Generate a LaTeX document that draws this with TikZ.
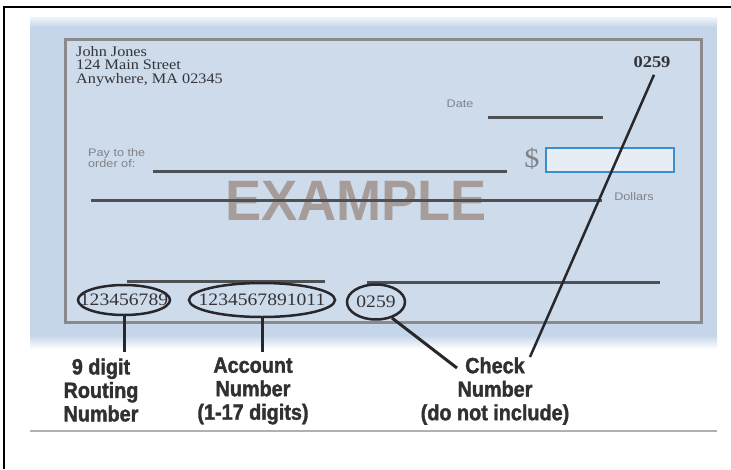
\documentclass[tikz,border=0pt]{standalone}
\usepackage{fontspec}
\setmainfont{Liberation Serif}
\newfontfamily\chk[FakeStretch=1.12]{Liberation Serif}
\newfontfamily\smallf[FakeStretch=1.15]{Liberation Sans}
\newfontfamily\wm[FakeStretch=0.95]{Liberation Sans}
\newfontfamily\lbl[FakeStretch=0.9,FakeBold=1.6]{Liberation Sans}
\usetikzlibrary{shapes.geometric}
\definecolor{chkblue}{RGB}{197,214,234}
\definecolor{chkin}{RGB}{205,219,235}
\definecolor{framegray}{RGB}{138,138,140}
\definecolor{linegray}{RGB}{78,80,84}
\definecolor{textgray}{RGB}{52,52,56}
\definecolor{faintgray}{RGB}{128,130,136}
\definecolor{wmark}{RGB}{166,157,154}
\definecolor{boxblue}{RGB}{58,142,204}
\definecolor{inkdark}{RGB}{40,40,44}
\definecolor{lbltext}{RGB}{48,48,50}
\definecolor{rulegray}{RGB}{176,176,176}
\begin{document}
\begin{tikzpicture}[x=1pt,y=-1pt,
  dline/.style={draw=linegray, line width=3pt},
  oval/.style={ellipse, draw=inkdark, line width=2.5pt, inner sep=0pt,
    font=\chk\fontsize{17.5}{17.5}\selectfont, text=textgray},
  conn/.style={draw=inkdark, line width=3pt},
  small/.style={font=\smallf\fontsize{11}{9.5}\selectfont, text=faintgray, inner sep=0pt},
  label/.style={align=center, inner sep=0pt, text=lbltext,
    font=\lbl\bfseries\fontsize{22}{23.5}\selectfont}]
\useasboundingbox (0,0) rectangle (731,469);
\fill[white] (0,0) rectangle (731,469);
% blue check background
\fill[chkblue] (30,17) rectangle (717,336);
\shade[top color=chkblue!25!white, bottom color=chkblue] (30,17) rectangle (717,27);
\shade[top color=chkblue, bottom color=white] (30,335.5) rectangle (717,349);
% inner check frame
\fill[chkin] (65,39) rectangle (701,322);
\draw[framegray, line width=3pt] (65,39) rectangle (701,322);
% outer black frame
\draw[black, line width=2pt] (731,7) -- (4,7) -- (4,469);
% address
\node[anchor=north west, align=left, inner sep=0pt, text=textgray,
  font=\chk\fontsize{14.5}{13.5}\selectfont] (addr) at (76,46)
  {John Jones\\124 Main Street\\Anywhere, MA 02345};
\node[inner sep=0pt, text=textgray, font=\chk\bfseries\fontsize{16.5}{16.5}\selectfont] (num) at (652,62) {0259};
% date
\node[small] (date) at (460,104) {Date};
\draw[dline] (488,117) -- (603,117);
% pay to
\node[small, anchor=west, align=left] (pay) at (88,158) {Pay to the\\order of:};
\draw[dline] (153,171) -- (507,171);
\node[inner sep=0pt, text=faintgray, font=\chk\fontsize{27}{27}\selectfont] (dollar) at (532,159) {\$};
\node[draw=boxblue, line width=2.5pt, fill=chkin!50!white, minimum width=128pt,
  minimum height=24pt, inner sep=0pt] (amount) at (610,160) {};
% watermark
\node[inner sep=0pt, text=wmark, font=\wm\bfseries\fontsize{57}{57}\selectfont] (ex) at (356,201) {EXAMPLE};
\draw[dline] (91,200) -- (602,200);
\node[small] (dollars) at (634,197) {Dollars};
% MICR lines
\draw[dline] (127,281) -- (325,281);
\draw[dline] (367,282) -- (660,282);
% MICR ellipses
\node[oval, minimum width=92pt, minimum height=30pt] (e1) at (124,300) {\makebox[0pt]{123456789}};
\node[oval, minimum width=146pt, minimum height=34pt] (e2) at (262,300) {\makebox[0pt]{1234567891011}};
\node[oval, minimum width=58pt, minimum height=35pt] (e3) at (376,302) {\makebox[0pt]{0259}};
% labels
\node[label] (lr) at (101,390) {9 digit\\Routing\\Number};
\node[label] (la) at (253,391) {Account\\Number\\(1-17 digits)};
\node[label] (lc) at (495,391) {Check\\Number\\(do not include)};
% connectors
\coordinate (r1) at (124,352);
\coordinate (a1) at (262,352);
\coordinate (c1) at (457,368);
\coordinate (c2) at (530,357);
\draw[conn] (e1.south) -- (r1);
\draw[conn] (e2.south) -- (a1);
\draw[conn] (e3.-45) -- (c1);
\draw[conn, line width=2.5pt] ([xshift=2pt,yshift=-7pt]num.south) -- (c2);
% bottom rule
\draw[rulegray, line width=2.5pt] (30,431) -- (717,431);
\end{tikzpicture}
\end{document}
